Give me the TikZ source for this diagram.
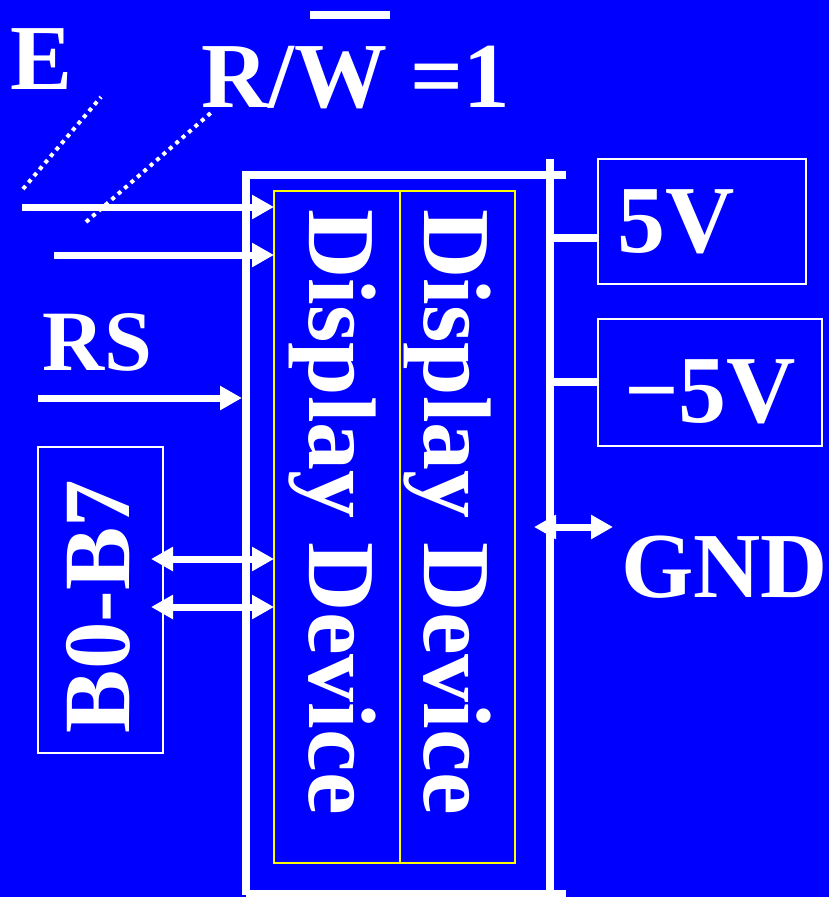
\documentclass[tikz,border=0pt]{standalone}
\usepackage{fontspec}
\setmainfont{Liberation Serif}
\usetikzlibrary{arrows.meta}
\definecolor{slideblue}{RGB}{0,0,255}
\definecolor{devyellow}{RGB}{255,255,0}

\begin{document}
\begin{tikzpicture}[x=1pt, y=-1pt,
  >={Triangle[length=22pt,width=23pt]},
  lbl/.style={white, inner sep=0pt, outer sep=0pt, anchor=base west,
    font=\bfseries\fontsize{93}{93}\selectfont},
  biglbl/.style={lbl, font=\bfseries\fontsize{96}{96}\selectfont},
  wbox/.style={draw=white, line width=1.8pt, inner sep=0pt, outer sep=0pt, anchor=north west},
  ybox/.style={draw=devyellow, line width=1.3pt, inner sep=0pt, outer sep=0pt, anchor=north west},
  wire/.style={white, line width=8pt},
  sig/.style={white, line width=7pt},
  dots/.style={white, line width=4pt, dash pattern=on 4pt off 4.5pt}]

  % slide background
  \fill[slideblue] (0,0) rectangle (829,897);
  \useasboundingbox (0,0) rectangle (829,897);

  % outer frame and supply rail
  \draw[wire] (242,175) -- (566,175);
  \draw[wire] (246,171) -- (246,895);
  \draw[wire] (246,894) -- (566,894);
  \draw[wire] (550,159) -- (550,897);
  \coordinate (frameL) at (242,398);

  % the two display columns
  \node[ybox, minimum width=126pt, minimum height=672pt] (dispL) at (274,191) {};
  \node[ybox, minimum width=115pt, minimum height=672pt] (dispR) at (400,191) {};
  \node[biglbl, rotate=-90] (txtL) at (309,209.5) {Display Device};
  \node[biglbl, rotate=-90] (txtR) at (424,209.5) {Display Device};

  % control inputs
  \node[lbl] (lblE) at (10,89) {E};
  \node[lbl] (lblRW) at (201,107) {R/W =1};
  \draw[wire] (310,15) -- (390,15);
  \node[lbl, font=\bfseries\fontsize{86}{86}\selectfont] (lblRS) at (42,370) {RS};

  \coordinate (eIn) at (22,207);
  \coordinate (rwIn) at (54,255);
  \coordinate (rsIn) at (38,398);
  \draw[sig,->] (eIn) -- (eIn -| dispL.west);
  \draw[sig,->] (rwIn) -- (rwIn -| dispL.west);
  \draw[sig,->] (rsIn) -- (frameL);
  \draw[dots] (23,189) -- (101,97);
  \draw[dots] (86,222) -- (213,111);

  % data bus
  \node[wbox, minimum width=125pt, minimum height=306pt] (busBox) at (38,447) {};
  \node[lbl, font=\bfseries\fontsize{95}{95}\selectfont, rotate=90] (txtB) at (129,733) {B0-B7};
  \coordinate (bus1) at (151,559);
  \coordinate (bus2) at (151,607);
  \draw[sig,<->] (bus1) -- (bus1 -| dispL.west);
  \draw[sig,<->] (bus2) -- (bus2 -| dispL.west);

  % supplies
  \node[wbox, minimum width=208pt, minimum height=125pt] (v5) at (598,159) {};
  \node[wbox, minimum width=224pt, minimum height=127pt] (vm5) at (598,319) {};
  \node[biglbl] (txt5) at (617,252) {5V};
  \node[biglbl] (txtm5) at (624,422) {−5V};
  \coordinate (rail5) at (550,238);
  \coordinate (railm5) at (550,382);
  \draw[wire] (rail5) -- (rail5 -| v5.west);
  \draw[wire] (railm5) -- (railm5 -| vm5.west);

  \node[lbl] (lblGND) at (621,597) {GND};
  \coordinate (gndL) at (534,527);
  \coordinate (gndR) at (613,527);
  \draw[sig,<->] (gndL) -- (gndR);
\end{tikzpicture}
\end{document}
